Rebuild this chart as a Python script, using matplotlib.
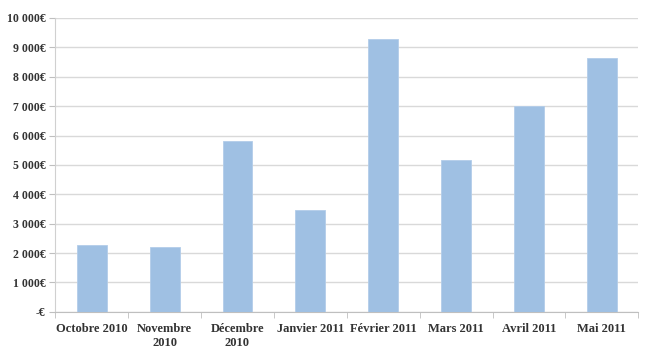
import numpy as np
import matplotlib
matplotlib.use("Agg")
import matplotlib.pyplot as plt
from matplotlib.ticker import FuncFormatter, FixedLocator

months = ["Octobre 2010", "Novembre\n2010", "Décembre\n2010", "Janvier 2011",
          "Février 2011", "Mars 2011", "Avril 2011", "Mai 2011"]
revenue = [2270, 2200, 5830, 3480, 9270, 5160, 7010, 8630]
y_ticks = [0, 1000, 2000, 3000, 4000, 5000, 6000, 7000, 8000, 9000, 10000]

plt.rcParams['font.family'] = ['Liberation Serif', 'DejaVu Serif']


def euro(v, pos=None):
    if v == 0:
        return "-€"
    return f"{int(v):,}€".replace(",", " ")


fig = plt.figure(figsize=(6.5, 3.52), dpi=100)
ax = fig.add_axes([0.085, 0.114, 0.897, 0.835])

x = np.arange(len(months))
ax.bar(x, revenue, width=0.41, color="#9fc0e3", edgecolor="#b3cde9", linewidth=0.6, zorder=3)

ax.set_xlim(-0.5, len(months) - 0.5)
ax.set_ylim(0, 10000)
ax.set_yticks(y_ticks)
ax.yaxis.set_major_formatter(FuncFormatter(euro))
ax.yaxis.grid(True, color="#d9d9d9", linewidth=1.0, zorder=0)

ax.set_xticks(x)
ax.set_xticklabels(months, fontsize=9, fontweight="bold", color="#333333")
ax.xaxis.set_minor_locator(FixedLocator(np.arange(-0.5, len(months), 1.0)))
ax.tick_params(axis="x", which="major", length=0, pad=8)
ax.tick_params(axis="x", which="minor", length=4, color="#bfbfbf", direction="out")
ax.tick_params(axis="y", length=4, color="#bfbfbf", labelsize=8.5, labelcolor="#333333", pad=3)
for lbl in ax.get_yticklabels():
    lbl.set_fontweight("bold")

for s in ["top", "right"]:
    ax.spines[s].set_visible(False)
ax.spines["left"].set_color("#d0d0d0")
ax.spines["bottom"].set_color("#bfbfbf")

fig.savefig("out.png", dpi=100)
